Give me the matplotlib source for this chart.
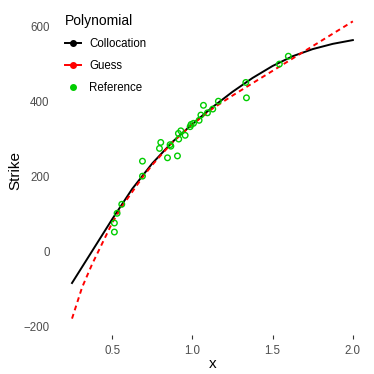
import numpy as np
import matplotlib
matplotlib.use('Agg')
import matplotlib.pyplot as plt
from matplotlib.lines import Line2D

plt.rcParams['font.family'] = ['Liberation Sans', 'DejaVu Sans']

# Collocation curve
colloc_x = [0.25, 0.375, 0.5, 0.625, 0.75, 0.875, 1.0, 1.125, 1.25, 1.375, 1.5, 1.625, 1.75, 1.875, 2.0]
colloc_y = [-85, 0, 85, 166, 234, 291, 339, 384, 425, 462, 494, 520, 539, 553, 563]

# Guess curve
guess_x = [0.25, 0.3125, 0.375, 0.4375, 0.5, 0.5625, 0.625, 0.6875, 0.75, 0.875, 1.0,
           1.125, 1.25, 1.375, 1.5, 1.625, 1.75, 1.875, 2.0]
guess_y = [-180, -97, -35, 20, 75, 120, 158, 196, 230, 290, 338,
           380, 415, 448, 481, 514, 547, 580, 613]

# Reference points
ref_x = [0.514, 0.514, 0.531, 0.56, 0.689, 0.689, 0.795, 0.803, 0.845, 0.861, 0.866,
         0.907, 0.913, 0.915, 0.928, 0.955, 0.986, 0.992, 1.007, 1.042, 1.053, 1.069,
         1.094, 1.127, 1.162, 1.333, 1.337, 1.542, 1.598]
ref_y = [51, 75, 101, 125, 200, 240, 274, 290, 249, 284, 280,
         254, 314, 299, 321, 309, 332, 338, 341, 349, 363, 389,
         369, 379, 400, 450, 409, 499, 520]

green = '#00CD00'

fig = plt.figure(figsize=(3.74, 3.74), dpi=100)
ax = fig.add_axes([0.155, 0.104, 0.826, 0.882])

ax.plot(colloc_x, colloc_y, color='black', lw=1.4)
ax.plot(guess_x, guess_y, color='red', lw=1.4, linestyle=(0, (2.5, 2)))
ax.scatter(ref_x, ref_y, s=16, facecolors='none', edgecolors=green, linewidths=1.0, zorder=3)

ax.set_xlim(0.1625, 2.0875)
ax.set_ylim(-224, 656)
ax.set_xticks([0.5, 1.0, 1.5, 2.0])
ax.set_xticklabels(['0.5', '1.0', '1.5', '2.0'])
ax.set_yticks([-200, 0, 200, 400, 600])
ax.set_yticklabels(['\u2212200', '0', '200', '400', '600'])
for s in ax.spines.values():
    s.set_visible(False)
ax.tick_params(axis='x', length=3, width=0.8, color='#333333', labelsize=8.3,
               labelcolor='#4D4D4D', pad=4)
ax.tick_params(axis='y', length=0, labelsize=8.3, labelcolor='#4D4D4D', pad=6)
ax.set_xlabel('x', fontsize=11, labelpad=0)
ax.set_ylabel('Strike', fontsize=11, labelpad=1)

handles = [
    Line2D([], [], color='black', lw=1.4, marker='o', markersize=4),
    Line2D([], [], color='red', lw=1.4, marker='o', markersize=4),
    Line2D([], [], color=green, lw=0, marker='o', markersize=4),
]
leg = ax.legend(handles, ['Collocation', 'Guess', 'Reference'], title='Polynomial',
                loc='upper left', bbox_to_anchor=(0.004, 0.99), frameon=False,
                fontsize=8.3, title_fontsize=10, handlelength=1.4,
                labelspacing=0.85, borderpad=0, handletextpad=0.7, alignment='left')

fig.savefig('out.png', dpi=100)
